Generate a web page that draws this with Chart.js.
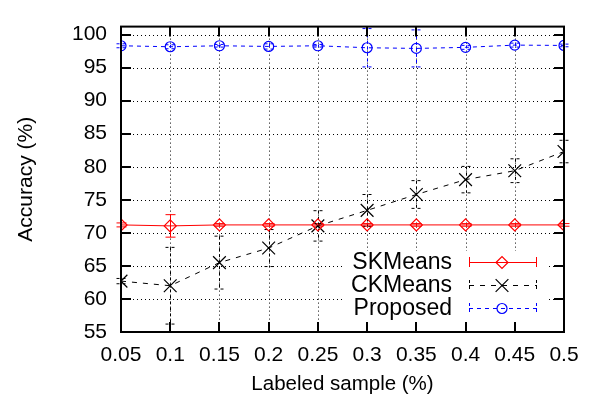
<!DOCTYPE html>
<html>
<head>
<meta charset="utf-8">
<script src="https://cdn.jsdelivr.net/npm/chart.js@4"></script>
<style>
  html, body { margin: 0; padding: 0; background: #fff; }
  #wrap { width: 594px; height: 402px; }
</style>
</head>
<body>
<div id="wrap"><canvas id="chart"></canvas></div>
<script>
const xValues = [0.05, 0.1, 0.15, 0.2, 0.25, 0.3, 0.35, 0.4, 0.45, 0.5];
const xLabels = ['0.05', '0.1', '0.15', '0.2', '0.25', '0.3', '0.35', '0.4', '0.45', '0.5'];
const yTicks = [55, 60, 65, 70, 75, 80, 85, 90, 95, 100];

const skMeans = [71.2, 71.05, 71.2, 71.2, 71.2, 71.2, 71.2, 71.2, 71.2, 71.2];
const skErr = [0.3, 1.7, 0.2, 0.2, 0.2, 0.2, 0.2, 0.2, 0.2, 0.2];
const ckMeans = [62.7, 62.0, 65.5, 67.7, 71.05, 73.4, 75.8, 78.05, 79.4, 82.3];
const ckErr = [0.4, 5.8, 4.0, 2.8, 2.3, 2.4, 2.1, 2.0, 1.8, 1.7];
const proposed = [98.3, 98.15, 98.3, 98.2, 98.3, 98.0, 97.9, 98.06, 98.4, 98.35];
const propErr = [0.3, 0.3, 0.2, 0.4, 0.2, 2.9, 2.8, 0.3, 0.3, 0.2];

const FONT = 'Liberation Sans, Arial, sans-serif';

const series = [
  { label: 'SKMeans', values: skMeans, err: skErr, color: '#ff0000', dash: [], errDash: [], style: 'rectRot', radius: 6 },
  { label: 'CKMeans', values: ckMeans, err: ckErr, color: '#000000', dash: [5, 6], errDash: [3, 3], style: 'crossRot', radius: 9 },
  { label: 'Proposed', values: proposed, err: propErr, color: '#0000ff', dash: [4, 4], errDash: [3, 3], style: 'circle', radius: 5 }
];

// gnuplot-like frame, dotted grid, error bars and key
const gnuplotLook = {
  id: 'gnuplotLook',
  beforeDatasetsDraw(chart) {
    const ctx = chart.ctx;
    const area = chart.chartArea;
    const xs = chart.scales.x, ys = chart.scales.y;
    ctx.save();
    ctx.strokeStyle = '#000';
    ctx.lineWidth = 1;
    ctx.setLineDash([1, 3]);
    xValues.forEach(v => {
      const px = Math.round(xs.getPixelForValue(v)) + 0.5;
      ctx.beginPath(); ctx.moveTo(px, area.top); ctx.lineTo(px, area.bottom); ctx.stroke();
    });
    yTicks.forEach(v => {
      const py = Math.round(ys.getPixelForValue(v)) + 0.5;
      ctx.beginPath(); ctx.moveTo(area.left, py); ctx.lineTo(area.right, py); ctx.stroke();
    });
    // key box hides grid
    ctx.setLineDash([]);
    ctx.fillStyle = '#fff';
    ctx.fillRect(343, 251, 205, area.bottom - 251);

    // error bars
    series.forEach(s => {
      ctx.strokeStyle = s.color;
      ctx.lineWidth = 1;
      ctx.setLineDash(s.errDash);
      s.values.forEach((v, i) => {
        const px = Math.round(xs.getPixelForValue(xValues[i])) + 0.5;
        const top = ys.getPixelForValue(v + s.err[i]);
        const bot = ys.getPixelForValue(v - s.err[i]);
        ctx.beginPath();
        ctx.moveTo(px, top); ctx.lineTo(px, bot);
        ctx.moveTo(px - 5, top); ctx.lineTo(px + 5, top);
        ctx.moveTo(px - 5, bot); ctx.lineTo(px + 5, bot);
        ctx.stroke();
      });
    });
    ctx.restore();
  },
  afterDraw(chart) {
    const ctx = chart.ctx;
    const area = chart.chartArea;
    const xs = chart.scales.x, ys = chart.scales.y;
    ctx.save();
    // key
    const rows = [262, 285, 308];
    ctx.font = '23px ' + FONT;
    ctx.textAlign = 'right';
    ctx.textBaseline = 'middle';
    series.forEach((s, k) => {
      const y = rows[k];
      ctx.fillStyle = '#000';
      ctx.fillText(s.label, 452, y + 1);
      ctx.strokeStyle = s.color;
      ctx.lineWidth = 1;
      ctx.setLineDash(s.dash);
      ctx.beginPath(); ctx.moveTo(469, y + 0.5); ctx.lineTo(537, y + 0.5); ctx.stroke();
      ctx.setLineDash(s.errDash);
      ctx.beginPath();
      ctx.moveTo(469.5, y - 5); ctx.lineTo(469.5, y + 5);
      ctx.moveTo(536.5, y - 5); ctx.lineTo(536.5, y + 5);
      ctx.stroke();
      ctx.setLineDash([]);
      ctx.fillStyle = 'rgba(0,0,0,0)';
      ctx.lineWidth = 1.2;
      Chart.helpers.drawPoint(ctx, {
        pointStyle: s.style, radius: s.radius, borderWidth: 1.2, rotation: 0
      }, 502, y + 0.5);
    });
    // frame
    ctx.setLineDash([]);
    ctx.strokeStyle = '#000';
    ctx.lineWidth = 2;
    ctx.strokeRect(area.left, area.top, area.right - area.left, area.bottom - area.top);
    // inward ticks on all sides
    ctx.lineWidth = 2;
    ctx.beginPath();
    xValues.forEach(v => {
      const px = Math.round(xs.getPixelForValue(v));
      ctx.moveTo(px, area.bottom); ctx.lineTo(px, area.bottom - 10);
      ctx.moveTo(px, area.top); ctx.lineTo(px, area.top + 10);
    });
    yTicks.forEach(v => {
      const py = Math.round(ys.getPixelForValue(v));
      ctx.moveTo(area.left, py); ctx.lineTo(area.left + 10, py);
      ctx.moveTo(area.right, py); ctx.lineTo(area.right - 10, py);
    });
    ctx.stroke();
    ctx.restore();
  }
};

const datasets = series.map(s => ({
  label: s.label,
  data: s.values.map((v, i) => ({ x: xValues[i], y: v })),
  borderColor: s.color,
  backgroundColor: 'rgba(0,0,0,0)',
  borderWidth: 1,
  borderDash: s.dash,
  pointStyle: s.style,
  pointRadius: s.radius,
  pointBorderColor: s.color,
  pointBackgroundColor: 'rgba(0,0,0,0)',
  pointBorderWidth: 1.2,
  tension: 0
}));

Chart.defaults.font.family = FONT;
Chart.defaults.color = '#000';

new Chart(document.getElementById('chart').getContext('2d'), {
  type: 'line',
  data: { datasets: datasets },
  options: {
    responsive: true,
    maintainAspectRatio: false,
    animation: false,
    layout: { padding: { top: 7, right: 30, bottom: 0, left: 0 } },
    plugins: { legend: { display: false }, tooltip: { enabled: false } },
    scales: {
      x: {
        type: 'linear',
        min: 0.05,
        max: 0.5,
        afterBuildTicks: scale => { scale.ticks = xValues.map(v => ({ value: v })); },
        afterFit: scale => { scale.height = 70; },
        grid: { display: false, drawTicks: false },
        border: { display: false },
        ticks: {
          font: { size: 21 },
          padding: 11,
          maxRotation: 0,
          autoSkip: false,
          callback: (val, idx) => xLabels[idx]
        },
        title: {
          display: true,
          text: 'Labeled sample (%)',
          font: { size: 20.5 },
          padding: { top: 0, bottom: 5 }
        }
      },
      y: {
        min: 55,
        max: 101.2,
        afterBuildTicks: scale => { scale.ticks = yTicks.map(v => ({ value: v })); },
        afterFit: scale => { scale.width = 121; },
        grid: { display: false, drawTicks: false },
        border: { display: false },
        ticks: { font: { size: 21 }, padding: 14 },
        title: {
          display: true,
          text: 'Accuracy (%)',
          font: { size: 21 },
          padding: { top: 14, bottom: 0 }
        }
      }
    }
  },
  plugins: [gnuplotLook]
});
</script>
</body>
</html>
